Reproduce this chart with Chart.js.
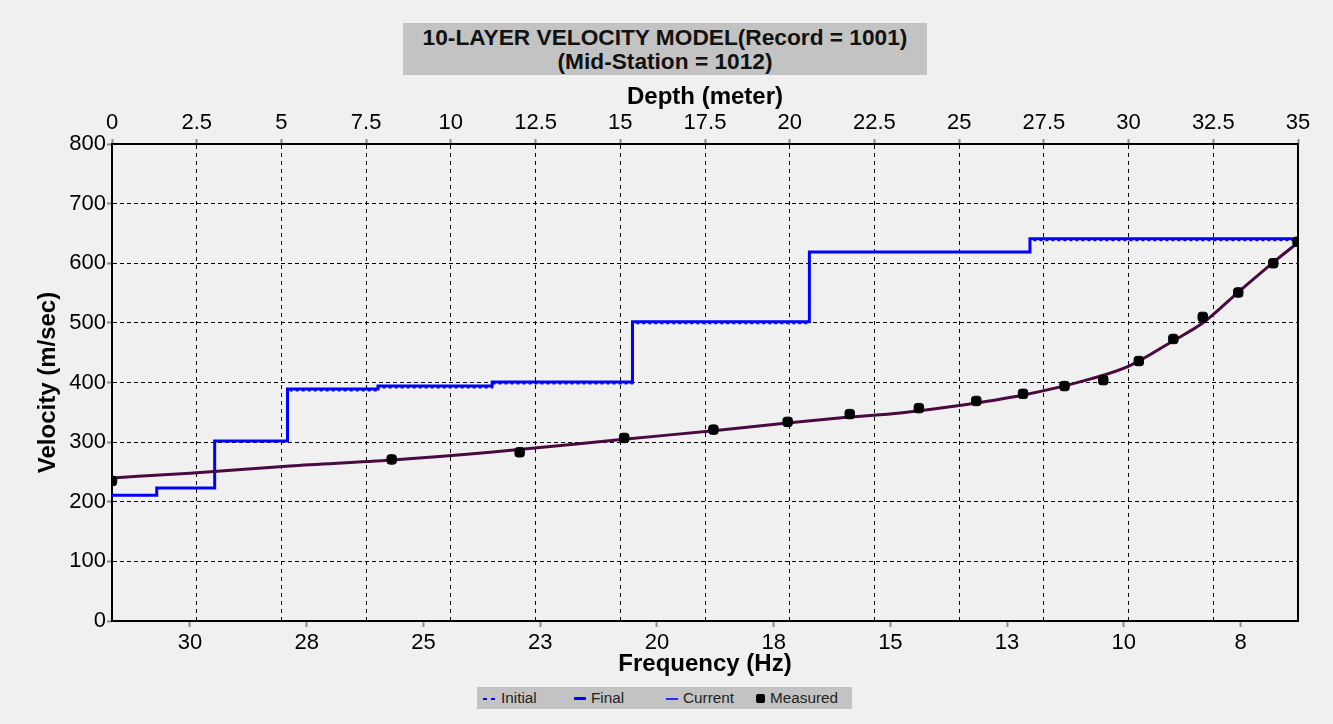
<!DOCTYPE html>
<html>
<head>
<meta charset="utf-8">
<title>10-Layer Velocity Model</title>
<script src="https://cdn.jsdelivr.net/npm/chart.js@4.4.1/dist/chart.umd.min.js"></script>
<style>
  html, body { margin: 0; padding: 0; background: #f0f0f0; }
  #wrap { position: relative; width: 1333px; height: 724px; font-family: "Liberation Sans", Arial, sans-serif; }
  #chart { position: absolute; left: 0; top: 0; }
  #title { position: absolute; left: 403px; top: 23px; width: 524px; height: 52px; box-sizing: border-box; padding-top: 2px;
    background: #c3c3c3; color: #111; text-align: center; font-weight: bold; font-size: 22.7px; line-height: 24px; }
  #legend { position: absolute; left: 477px; top: 687px; width: 375px; height: 22px; background: #c3c3c3; color: #222; font-size: 15.3px; }
  #legend .item { position: absolute; top: 0; height: 22px; line-height: 22px; white-space: nowrap; }
  #legend .sym { display: inline-block; vertical-align: middle; margin-right: 5px; }
</style>
</head>
<body>
<div id="wrap">
  <canvas id="chart" width="1333" height="724"></canvas>
  <div id="title">10-LAYER VELOCITY MODEL(Record = 1001)<br>(Mid-Station = 1012)</div>
  <div id="legend">
    <div class="item" style="left:6px"><span class="sym" style="width:13px;height:2px;background:repeating-linear-gradient(90deg,#0000ff 0 4px,transparent 4px 8px)"></span>Initial</div>
    <div class="item" style="left:97px"><span class="sym" style="width:12px;height:3px;background:#0000ff"></span>Final</div>
    <div class="item" style="left:189px"><span class="sym" style="width:12px;height:1.5px;background:#2a2aff"></span>Current</div>
    <div class="item" style="left:279px"><span class="sym" style="width:9px;height:9px;background:#000;border-radius:2px"></span>Measured</div>
  </div>
</div>
<script>
// layer tops (m) and shear velocities (m/sec)
var layerTop    = [0, 1.32, 3.03, 5.18, 7.85, 11.22, 15.36, 20.58, 27.09];
var finalVel    = [211, 223, 302, 389, 394, 401, 502, 619, 641];
var currentVel  = [211, 223, 302, 389, 394, 401, 502, 619, 641];
var initialVel  = [211, 223, 302, 386, 391, 398, 499, 619, 638];

// dispersion curve: frequency (Hz) vs phase velocity (m/sec)
var curveFreq = [31.67, 30.0, 27.86, 25.67, 23.57, 20.70, 18.79, 17.21, 15.88, 14.79,
                 13.56, 12.15, 10.71, 9.88, 8.94, 8.29, 7.50, 6.79, 6.28];
var curveVel  = [240, 248, 260, 270, 283, 305, 319, 332, 342, 349,
                 361, 379, 406, 428, 470, 501, 555, 602, 634];

var measFreq = [31.67, 25.68, 22.94, 20.70, 18.79, 17.20, 15.87, 14.39, 13.16, 12.16,
                11.27, 10.44, 9.68, 8.94, 8.31, 7.55, 6.80, 6.28];
var measVel  = [235, 271, 283, 307, 321, 334, 347, 357, 369, 381,
                394, 404, 436, 473, 510, 551, 600, 636];

var depthTicks = [0, 2.5, 5, 7.5, 10, 12.5, 15, 17.5, 20, 22.5, 25, 27.5, 30, 32.5, 35];
var freqTicks = [30, 27.5, 25, 22.5, 20, 17.5, 15, 12.5, 10, 7.5];
var freqTickLabels = ['30', '28', '25', '23', '20', '18', '15', '13', '10', '8'];
var velTicks = [0, 100, 200, 300, 400, 500, 600, 700, 800];

var depthRange = [0, 35];
var freqRange = [6.27, 31.67];
var velRange = [0, 800];

function steps(vel){
  var pts = layerTop.map(function(d, i){ return {x: d, y: vel[i]}; });
  pts.push({x: depthRange[1], y: vel[vel.length - 1]});
  return pts;
}

function pairs(xs, ys){
  return xs.map(function(x, i){ return {x: x, y: ys[i]}; });
}

function fixedTicks(list){
  return function(scale){
    scale.ticks = list.map(function(v){ return {value: v}; });
  };
}

Chart.defaults.font.family = '"Liberation Sans", Arial, sans-serif';
Chart.defaults.color = '#000';

var tickFont = {size: 22};
var titleFont = {size: 24, weight: 'bold'};

new Chart(document.getElementById('chart'), {
  type: 'line',
  data: {
    datasets: [
      {
        label: 'Measured', data: pairs(measFreq, measVel), xAxisID: 'freq', yAxisID: 'y',
        showLine: false, pointStyle: 'rectRounded', pointRadius: 5.5, pointBackgroundColor: '#000',
        pointBorderColor: '#000', pointBorderWidth: 1, order: 0
      },
      {
        label: 'Dispersion', data: pairs(curveFreq, curveVel), xAxisID: 'freq', yAxisID: 'y',
        borderColor: '#480a40', borderWidth: 3, pointRadius: 0, cubicInterpolationMode: 'monotone', order: 1
      },
      {
        label: 'Final', data: steps(finalVel), xAxisID: 'depth', yAxisID: 'y',
        stepped: true, borderColor: '#0000ff', borderWidth: 3, pointRadius: 0, order: 2
      },
      {
        label: 'Initial', data: steps(initialVel), xAxisID: 'depth', yAxisID: 'y',
        stepped: true, borderColor: '#0000ff', borderWidth: 1.5, borderDash: [3, 3], pointRadius: 0, order: 3
      },
      {
        // opaque gaps under the dashed initial model
        label: 'Initial gaps', data: steps(initialVel), xAxisID: 'depth', yAxisID: 'y',
        stepped: true, borderColor: '#ffffff', borderWidth: 1.5, pointRadius: 0, order: 4
      },
      {
        label: 'Current', data: steps(currentVel), xAxisID: 'depth', yAxisID: 'y',
        stepped: true, borderColor: '#2a2aff', borderWidth: 1, pointRadius: 0, order: 5
      }
    ]
  },
  options: {
    responsive: false,
    devicePixelRatio: 1,
    animation: false,
    layout: {padding: 0},
    plugins: {legend: {display: false}, title: {display: false}, tooltip: {enabled: false}},
    scales: {
      depth: {
        type: 'linear', axis: 'x', position: 'top', min: depthRange[0], max: depthRange[1],
        afterBuildTicks: fixedTicks(depthTicks),
        afterFit: function(s){ s.height = 144; },
        ticks: {font: tickFont, color: '#000', padding: 3, maxRotation: 0, autoSkip: false,
          callback: function(v){ return String(v); }},
        grid: {color: '#000', lineWidth: 1, tickLength: 5, tickColor: '#8c8c8c', tickWidth: 2, tickBorderDash: []},
        border: {color: '#000', width: 2, dash: [4, 4]},
        title: {display: true, text: 'Depth (meter)', font: titleFont, color: '#000', padding: {top: 83, bottom: 0}}
      },
      freq: {
        type: 'linear', axis: 'x', position: 'bottom', reverse: true, min: freqRange[0], max: freqRange[1],
        afterBuildTicks: fixedTicks(freqTicks),
        afterFit: function(s){ s.height = 103; },
        ticks: {font: tickFont, color: '#000', padding: 3, maxRotation: 0, autoSkip: false,
          callback: function(v, i){ return freqTickLabels[i]; }},
        grid: {drawOnChartArea: false, tickLength: 6, tickColor: '#8c8c8c', tickWidth: 2},
        border: {color: '#000', width: 2},
        title: {display: true, text: 'Frequency (Hz)', font: titleFont, color: '#000', padding: {top: 0, bottom: 45}}
      },
      y: {
        type: 'linear', position: 'left', min: velRange[0], max: velRange[1],
        afterBuildTicks: fixedTicks(velTicks),
        afterFit: function(s){ s.width = 112; },
        ticks: {font: tickFont, color: '#000', padding: 1},
        grid: {color: '#000', lineWidth: 1, tickLength: 5, tickColor: '#8c8c8c', tickWidth: 2, tickBorderDash: []},
        border: {color: '#000', width: 2, dash: [4, 3]},
        title: {display: true, text: 'Velocity (m/sec)', font: titleFont, color: '#000', padding: {top: 34, bottom: 0}}
      },
      yRight: {
        type: 'linear', position: 'right', min: velRange[0], max: velRange[1],
        afterFit: function(s){ s.width = 35; },
        ticks: {display: false},
        grid: {drawOnChartArea: false, drawTicks: false},
        border: {color: '#000', width: 2}
      }
    }
  }
});
</script>
</body>
</html>
